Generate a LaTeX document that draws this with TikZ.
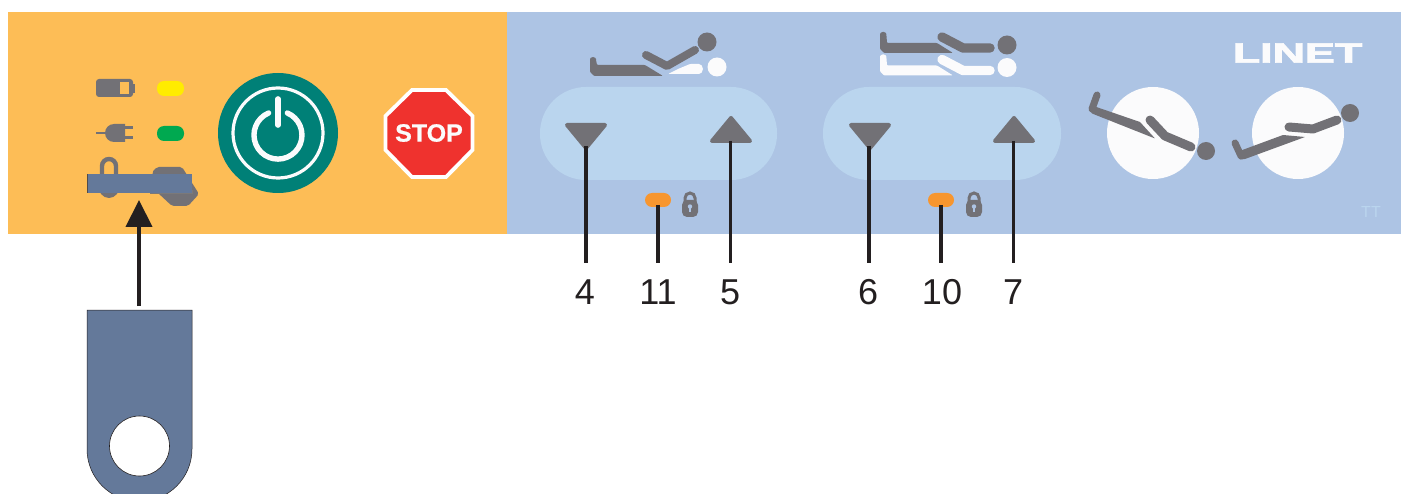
\documentclass[tikz,border=0pt]{standalone}
\usepackage{fontspec}
\setmainfont{Liberation Sans}
\newfontfamily\heavyfont[FakeBold=2.5]{Liberation Sans Bold}
\newfontfamily\stopfont[FakeBold=0.6]{Liberation Sans Bold}
\usetikzlibrary{arrows.meta}
\definecolor{panelorange}{HTML}{FDBD56}
\definecolor{panelblue}{HTML}{ADC4E4}
\definecolor{pillblue}{HTML}{BAD5EE}
\definecolor{icongrey}{HTML}{727176}
\definecolor{inkblack}{HTML}{231F20}
\definecolor{teal}{HTML}{008077}
\definecolor{stopred}{HTML}{EF322E}
\definecolor{tagblue}{HTML}{64799A}
\definecolor{ledorange}{HTML}{F7962F}
\definecolor{ledyellow}{HTML}{FFEC00}
\definecolor{ledgreen}{HTML}{00A950}
\definecolor{softwhite}{HTML}{FBFBFC}
\tikzset{
  limb/.style={draw=icongrey,line width=#1,line cap=round,line join=round},
  limb/.default=8pt,
  tri/.style={fill=icongrey,draw=icongrey,line width=4pt,line join=round},
  pill/.style={fill=pillblue,draw=none,rounded corners=46pt},
  leader/.style={draw=inkblack,line width=3.8pt},
  num/.style={font=\fontsize{36}{36}\selectfont,text=inkblack,inner xsep=0pt,inner ysep=16pt},
  led/.style={draw=none,rounded corners=7pt},
}
\newcommand{\padlock}[2]{%
  \draw[draw=icongrey,line width=3pt] (#1-5,#2+12) -- (#1-5,#2+7) arc[start angle=180,end angle=360,radius=5] -- (#1+5,#2+12);
  \fill[icongrey,rounded corners=5pt] (#1-8,#2+9) rectangle (#1+8,#2+26);
  \fill[panelblue] (#1-1.1,#2+21) rectangle (#1+1.1,#2+15);
  \fill[panelblue] (#1,#2+15.5) circle[radius=2.2];
}
\begin{document}
\begin{tikzpicture}[x=1pt,y=-1pt]
\useasboundingbox (0,0) rectangle (1404,494);
\clip (0,0) rectangle (1404,494);
\fill[white] (0,0) rectangle (1404,494);
\fill[panelorange] (8,12) rectangle (507,234);
\fill[panelblue] (507,12) rectangle (1401,234);

% status icons
\fill[icongrey,rounded corners=3pt] (96,79) rectangle (133,97);
\fill[icongrey] (132,84) rectangle (135,93);
\fill[panelorange] (120,82) rectangle (129,94);
\fill[ledyellow,led] (157,81) rectangle (184,96);
\draw[icongrey,line width=2.8pt] (96,133) -- (108,133);
\fill[icongrey] (125,124) -- (114,124) arc[start angle=270,end angle=90,radius=9] -- (125,142) -- cycle;
\draw[icongrey,line width=3pt] (124,128) -- (133,128) (124,138) -- (133,138);
\fill[ledgreen,led] (157,126) rectangle (184,141);

% lock and key behind the strap
\draw[icongrey,line width=4.4pt] (102,176) -- (102,166) arc[start angle=180,end angle=360,radius=7] -- (116,176);
\fill[icongrey] (98,185) arc[start angle=180,end angle=0,x radius=11,y radius=13] -- cycle;
\fill[icongrey,rounded corners=2pt] (152,172) -- (157,167) -- (182,167) -- (199,194) -- (188,206) -- (172,206) -- (158,193) -- cycle;
\fill[tagblue] (87,174) rectangle (192,193);
\draw[inkblack!80,line width=.6pt] (87.3,174) -- (87.3,193);
\draw[inkblack!60,line width=.5pt] (150,193) -- (192,193) -- (192,190);

% arrow from tag to slot
\coordinate (tagtop) at (139,306);
\coordinate (slot) at (139,200);
\draw[draw=inkblack,line width=4.2pt,-{Triangle[length=27pt,width=26pt]}] (tagtop) -- (slot);

% tag
\path[fill=tagblue,draw=inkblack,line width=.5pt] (87,310) -- (192,310) -- (192,449) arc[start angle=0,end angle=180,radius=52.5] -- cycle;
\fill[white,draw=inkblack,line width=.6pt] (139.5,446) circle[radius=30];

% power button
\fill[teal] (278,133) circle[radius=60];
\draw[softwhite,line width=3.2pt] (278,133) circle[radius=45];
\draw[softwhite,line width=5.4pt,line cap=round] (268.6,113) arc[start angle=247,end angle=-67,radius=24];
\draw[softwhite,line width=5.6pt,line cap=round] (278,99) -- (278,125);

% stop sign
\path[fill=stopred,draw=white,line width=3.8pt,line join=miter]
 (412,90) -- (446,90) -- (472.5,116) -- (472.5,150) -- (446,177) -- (412,177) -- (385.5,150) -- (385.5,116) -- cycle;
\node (stop) at (429,133) {\fontsize{25}{25}\stopfont\textcolor{softwhite}{STOP}};

% pills
\path[pill] (540,87) rectangle (777,180);
\path[pill] (823,87) rectangle (1061,180);

% triangles
\path[tri] (567,125) -- (605,125) -- (586,148) -- cycle;
\path[tri] (712,141) -- (750,141) -- (731,118) -- cycle;
\path[tri] (851,125) -- (889,125) -- (870,148) -- cycle;
\path[tri] (995,141) -- (1033,141) -- (1014,118) -- cycle;
\coordinate (down1) at (586,146);
\coordinate (up1) at (730.5,141);
\coordinate (down2) at (869,146);
\coordinate (up2) at (1013.5,141);

% LEDs + locks
\fill[ledorange,led] (645,193) rectangle (671,207);
\fill[ledorange,led] (928,193) rectangle (954,207);
\coordinate (ledA) at (658,205);
\coordinate (ledB) at (941,205);
\padlock{690}{191}
\padlock{974}{191}

% numbers
\node[num] (n4) at (585,292) {4};
\node[num] (n11) at (658,292) {11};
\node[num] (n5) at (730,292) {5};
\node[num] (n6) at (868,292) {6};
\node[num] (n10) at (942,292) {10};
\node[num] (n7) at (1013,292) {7};

% leaders
\draw[leader] (down1) -- (down1 |- n4.north);
\draw[leader] (ledA) -- (ledA |- n11.north);
\draw[leader] (up1) -- (up1 |- n5.north);
\draw[leader] (down2) -- (down2 |- n6.north);
\draw[leader] (ledB) -- (ledB |- n10.north);
\draw[leader] (up2) -- (up2 |- n7.north);

% icon: bed 1
\fill[softwhite,rounded corners=1pt] (668,74) -- (678,69) -- (690,64) -- (698,64) arc[start angle=-90,end angle=90,radius=5] -- cycle;
\fill[softwhite] (717,67) circle[radius=9.5];
\fill[icongrey,rounded corners=1pt] (663,76) -- (594,76) -- (590,72) -- (590,60) arc[start angle=180,end angle=360,radius=3] -- (597,65) -- (645,65) -- cycle;
\draw[limb] (646,55) -- (667,66) -- (695,50);
\fill[icongrey] (707,42) circle[radius=9.5];

% icon: bed 2
\foreach \dy/\col in {0/icongrey,22.5/softwhite}{
  \begin{scope}[yshift=-\dy pt]
  \fill[\col,rounded corners=1pt] (953,53) -- (884,53) -- (880,49) -- (880,35) arc[start angle=180,end angle=360,radius=3.2] -- (887,43) -- (937,43) -- cycle;
  \draw[draw=\col,line width=9.4pt,line cap=round,line join=round] (942,37) -- (963,48) -- (990,48);
  \fill[\col] (1007,45) circle[radius=9.5];
  \end{scope}
}

% circles + tilt icons
\fill[softwhite] (1153,133) circle[radius=46];
\fill[softwhite] (1298,133) circle[radius=46];
\draw[limb=7pt] (1097,95) -- (1092,109);
\fill[icongrey,rounded corners=.5pt] (1090.5,105) -- (1140,122) -- (1155,138.5) -- (1092,113.5) -- (1089,109) -- cycle;
\draw[limb=9pt] (1150,120) -- (1165,136) -- (1191,147);
\fill[icongrey] (1206,151) circle[radius=9];
\draw[limb=7pt] (1235,143) -- (1241,156);
\fill[icongrey,rounded corners=.5pt] (1241,150.5) -- (1283,135) -- (1305,137) -- (1245,159) -- (1240,159.5) -- cycle;
\draw[limb=9pt] (1289,127) -- (1313,129) -- (1337,120);
\fill[icongrey] (1350,113) circle[radius=9];

% brand
\node[inner sep=0pt,text=softwhite,anchor=center] (linet) at (1297.5,53) {\scalebox{1.6}[1]{\fontsize{28}{28}\heavyfont LINET}};
\node[inner sep=0pt,text=pillblue] (tt) at (1371,212) {\fontsize{16}{16}\selectfont TT};
\end{tikzpicture}
\end{document}
